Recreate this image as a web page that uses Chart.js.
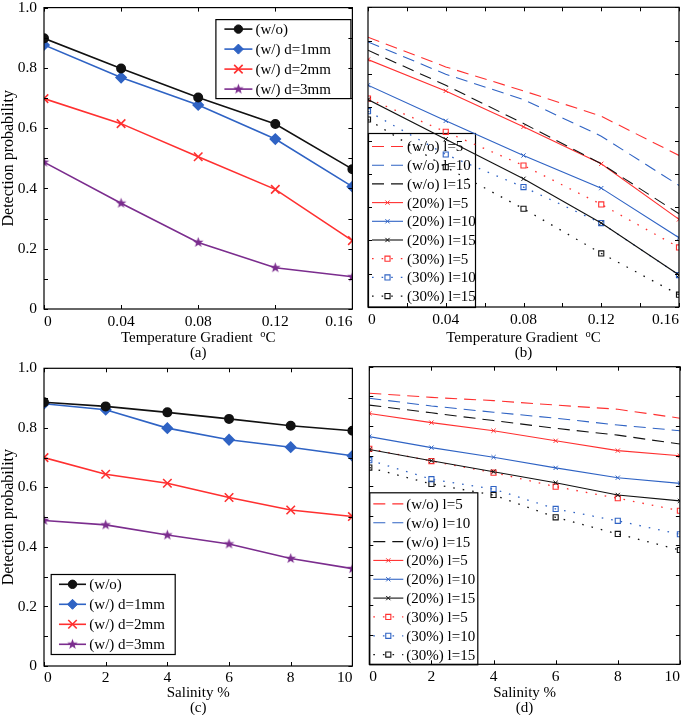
<!DOCTYPE html>
<html>
<head>
<meta charset="utf-8">
<script src="https://cdn.jsdelivr.net/npm/chart.js@4.4.1/dist/chart.umd.min.js"></script>
<style>
  body { margin: 0; background: #fff; }
  #wrap { position: relative; width: 685px; height: 715px; background: #fff; }
  canvas { position: absolute; }
</style>
</head>
<body>
<div id="wrap">
  <canvas id="chartA" width="360" height="360" style="left:0;top:0"></canvas>
  <canvas id="chartB" width="325" height="360" style="left:360px;top:0"></canvas>
  <canvas id="chartC" width="360" height="355" style="left:0;top:360px"></canvas>
  <canvas id="chartD" width="325" height="355" style="left:360px;top:360px"></canvas>
</div>
<script>
// x values
const tempGradient = [0, 0.04, 0.08, 0.12, 0.16];
const salinity = [0, 2, 4, 6, 8, 10];

// legend labels
const filmLabels = ['(w/o)', '(w/) d=1mm', '(w/) d=2mm', '(w/) d=3mm'];
const lengthLabels = ['(w/o) l=5', '(w/o) l=10', '(w/o) l=15',
                      '(20%) l=5', '(20%) l=10', '(20%) l=15',
                      '(30%) l=5', '(30%) l=10', '(30%) l=15'];

// (a) detection probability vs temperature gradient
const tempWo = [0.898, 0.798, 0.702, 0.614, 0.464];
const tempD1 = [0.876, 0.768, 0.677, 0.564, 0.406];
const tempD2 = [0.698, 0.615, 0.505, 0.397, 0.227];
const tempD3 = [0.487, 0.351, 0.221, 0.137, 0.107];

// (b)
const tempWoL5 = [0.910, 0.821, 0.749, 0.673, 0.555];
const tempWoL10 = [0.896, 0.799, 0.723, 0.613, 0.465];
const tempWoL15 = [0.871, 0.766, 0.651, 0.530, 0.380];
const temp20L5 = [0.843, 0.749, 0.641, 0.530, 0.363];
const temp20L10 = [0.766, 0.659, 0.555, 0.457, 0.308];
const temp20L15 = [0.723, 0.604, 0.485, 0.352, 0.196];
const temp30L5 = [0.726, 0.626, 0.525, 0.408, 0.279];
const temp30L10 = [0.688, 0.558, 0.460, 0.352, 0.196];
const temp30L15 = [0.663, 0.520, 0.395, 0.261, 0.137];

// (c) detection probability vs salinity
const salWo = [0.886, 0.872, 0.852, 0.830, 0.807, 0.790];
const salD1 = [0.881, 0.861, 0.799, 0.760, 0.735, 0.706];
const salD2 = [0.700, 0.644, 0.614, 0.566, 0.524, 0.502];
const salD3 = [0.489, 0.474, 0.440, 0.410, 0.361, 0.327];

// (d)
const salWoL5 = [0.911, 0.897, 0.886, 0.871, 0.857, 0.827];
const salWoL10 = [0.894, 0.868, 0.847, 0.827, 0.804, 0.785];
const salWoL15 = [0.871, 0.845, 0.819, 0.793, 0.770, 0.740];
const sal20L5 = [0.843, 0.812, 0.785, 0.751, 0.718, 0.701];
const sal20L10 = [0.765, 0.728, 0.696, 0.660, 0.627, 0.608];
const sal20L15 = [0.722, 0.684, 0.647, 0.610, 0.569, 0.549];
const sal30L5 = [0.724, 0.683, 0.644, 0.597, 0.558, 0.516];
const sal30L10 = [0.686, 0.622, 0.589, 0.522, 0.482, 0.437];
const sal30L15 = [0.661, 0.606, 0.569, 0.494, 0.438, 0.384];

const RED = '#ff3030';
const BLUE = '#2f63c4';
const BLACK = '#111111';
const PURPLE = '#7b2d8e';
const SERIF = "'Liberation Serif', 'Times New Roman', serif";

// filled pentagram marker (Chart.js 'star' is only lines)
function starImage(color, r) {
    const c = document.createElement('canvas');
    const s = Math.ceil(r * 2 + 2);
    c.width = c.height = s;
    const g = c.getContext('2d');
    g.fillStyle = color;
    g.beginPath();
    for (let i = 0; i < 10; i++) {
        const rad = i % 2 ? r * 0.42 : r;
        const ang = -Math.PI / 2 + i * Math.PI / 5;
        g.lineTo(s / 2 + rad * Math.cos(ang), s / 2 + rad * Math.sin(ang));
    }
    g.closePath();
    g.fill();
    return c;
}

function drawMarker(ctx, ds, x, y) {
    const style = ds.pointStyle;
    const r = ds.pointRadius;
    if (!r) return;
    ctx.save();
    ctx.strokeStyle = ds.pointBorderColor || ds.borderColor;
    ctx.fillStyle = ds.pointBackgroundColor || ds.borderColor;
    ctx.lineWidth = ds.pointBorderWidth || 1;
    ctx.setLineDash([]);
    ctx.beginPath();
    if (style instanceof HTMLCanvasElement) {
        ctx.drawImage(style, x - style.width / 2, y - style.height / 2);
    } else if (style === 'circle') {
        ctx.arc(x, y, r, 0, Math.PI * 2);
        ctx.fill(); ctx.stroke();
    } else if (style === 'rectRot') {
        ctx.moveTo(x, y - r); ctx.lineTo(x + r, y); ctx.lineTo(x, y + r); ctx.lineTo(x - r, y);
        ctx.closePath(); ctx.fill(); ctx.stroke();
    } else if (style === 'crossRot') {
        const d = r * Math.SQRT1_2;
        ctx.moveTo(x - d, y - d); ctx.lineTo(x + d, y + d);
        ctx.moveTo(x + d, y - d); ctx.lineTo(x - d, y + d);
        ctx.stroke();
    } else if (style === 'rect') {
        const d = r * Math.SQRT1_2;
        ctx.rect(x - d, y - d, 2 * d, 2 * d);
        ctx.stroke();
    }
    ctx.restore();
}

// boxed axes with inward ticks, legend box inside the plot, x label with superscript
const matlabAxes = {
    id: 'matlabAxes',
    beforeDatasetsDraw(chart, args, opts) {
        const lg = opts.legend;
        if (!lg) return;
        const { ctx, chartArea: a } = chart;
        const left = lg.corner === 'tr' ? a.right - lg.dx - lg.w : a.left + lg.dx;
        const top = lg.corner === 'tr' ? a.top + lg.dy : a.bottom - lg.dy - lg.h;
        ctx.save();
        ctx.fillStyle = '#fff';
        ctx.fillRect(left, top, lg.w, lg.h);
        ctx.strokeStyle = '#000';
        ctx.lineWidth = 1.2;
        ctx.strokeRect(left + 0.5, top + 0.5, lg.w, lg.h);
        ctx.font = lg.font;
        ctx.textBaseline = 'middle';
        ctx.textAlign = 'left';
        chart.data.datasets.forEach((ds, i) => {
            const y = top + lg.first + i * lg.rowH;
            ctx.save();
            ctx.strokeStyle = ds.borderColor;
            ctx.lineWidth = ds.borderWidth;
            ctx.setLineDash(ds.borderDash || []);
            ctx.beginPath();
            ctx.moveTo(left + lg.sx, y);
            ctx.lineTo(left + lg.sx + lg.sw, y);
            ctx.stroke();
            ctx.restore();
            drawMarker(ctx, ds, left + lg.sx + lg.sw / 2, y);
            ctx.fillStyle = '#000';
            ctx.fillText(ds.label, left + lg.tx, y + 1);
        });
        ctx.restore();
    },
    afterDraw(chart, args, opts) {
        const { ctx, chartArea: a, scales: { x, y } } = chart;
        const len = 4;
        ctx.save();
        ctx.strokeStyle = '#000';
        ctx.lineWidth = 1.2;
        ctx.strokeRect(a.left, a.top, a.right - a.left, a.bottom - a.top);
        ctx.beginPath();
        for (let v = x.min; v <= x.max + 1e-9; v += opts.xStep) {
            const px = Math.round(x.getPixelForValue(v)) + 0.5;
            ctx.moveTo(px, a.bottom); ctx.lineTo(px, a.bottom - len);
            ctx.moveTo(px, a.top); ctx.lineTo(px, a.top + len);
        }
        for (let v = y.min; v <= y.max + 1e-9; v += opts.yStep) {
            const py = Math.round(y.getPixelForValue(v)) + 0.5;
            ctx.moveTo(a.left, py); ctx.lineTo(a.left + len, py);
            ctx.moveTo(a.right, py); ctx.lineTo(a.right - len, py);
        }
        ctx.lineWidth = 1;
        ctx.stroke();

        // x axis label line, drawn above the "(a)" caption
        const xl = opts.xLabel;
        const mainFont = '15px ' + SERIF;
        const supFont = '10.5px ' + SERIF;
        ctx.font = mainFont;
        const w1 = ctx.measureText(xl.main).width;
        const w3 = xl.after ? ctx.measureText(xl.after).width : 0;
        ctx.font = supFont;
        const w2 = xl.sup ? ctx.measureText(xl.sup).width : 0;
        let cx = (a.left + a.right) / 2 - (w1 + w2 + w3) / 2;
        const cy = chart.height - 7.1 - 14.5;
        ctx.fillStyle = '#000';
        ctx.textAlign = 'left';
        ctx.textBaseline = 'middle';
        ctx.font = mainFont;
        ctx.fillText(xl.main, cx, cy);
        cx += w1;
        if (xl.sup) {
            ctx.font = supFont;
            ctx.fillText(xl.sup, cx, cy - 4.5);
            cx += w2;
        }
        if (xl.after) {
            ctx.font = mainFont;
            ctx.fillText(xl.after, cx, cy);
        }
        ctx.restore();
    }
};

function toPoints(xs, ys) {
    return xs.map((x, i) => ({ x: x, y: ys[i] }));
}

function makeChart(id, xs, datasets, o) {
    return new Chart(document.getElementById(id), {
        type: 'line',
        data: {
            datasets: datasets.map(d => Object.assign({
                data: toPoints(xs, d.values),
                tension: 0,
                fill: false,
                clip: o.clip
            }, d))
        },
        options: {
            responsive: false,
            animation: false,
            layout: { padding: o.padding },
            plugins: {
                legend: { display: false },
                tooltip: { enabled: false },
                matlabAxes: o.axes
            },
            scales: {
                x: {
                    type: 'linear',
                    min: o.xMin, max: o.xMax,
                    grid: { display: false, drawTicks: false },
                    border: { display: false },
                    ticks: {
                        stepSize: o.xLabelStep,
                        align: 'inner',
                        padding: o.xPad,
                        maxRotation: 0,
                        autoSkip: false,
                        color: '#000',
                        font: { family: SERIF, size: 15.5 },
                        callback: v => String(parseFloat(v.toFixed(2)))
                    },
                    title: {
                        display: true,
                        text: o.caption,
                        color: '#000',
                        font: { family: SERIF, size: 15, lineHeight: 0.95 },
                        padding: { top: 0, bottom: 0 }
                    },
                    afterFit(s) { s.height = o.xHeight; s.paddingLeft = 0; s.paddingRight = 0; }
                },
                y: {
                    type: 'linear',
                    min: o.yMin, max: o.yMax,
                    grid: { display: false, drawTicks: false },
                    border: { display: false },
                    ticks: {
                        display: o.yLabels,
                        stepSize: 0.2,
                        padding: 7,
                        color: '#000',
                        font: { family: SERIF, size: 15.5 },
                        callback: v => v === 0 ? '0' : v.toFixed(1)
                    },
                    title: {
                        display: o.yLabels,
                        text: 'Detection probability',
                        color: '#000',
                        font: { family: SERIF, size: 16, lineHeight: 1.15 },
                        padding: { top: 0, bottom: 0 }
                    },
                    afterFit(s) { s.width = o.yWidth; s.paddingTop = 0; s.paddingBottom = 0; }
                }
            }
        },
        plugins: [matlabAxes]
    });
}

// series styles for (a) and (c)
function filmSets(vals) {
    const star = starImage(PURPLE, 5.5);
    return [
        { label: filmLabels[0], values: vals[0], borderColor: BLACK, borderWidth: 1.6,
          pointStyle: 'circle', pointRadius: 4.2, pointBackgroundColor: BLACK, pointBorderColor: BLACK },
        { label: filmLabels[1], values: vals[1], borderColor: BLUE, borderWidth: 1.6,
          pointStyle: 'rectRot', pointRadius: 5, pointBackgroundColor: BLUE, pointBorderColor: BLUE },
        { label: filmLabels[2], values: vals[2], borderColor: RED, borderWidth: 1.6,
          pointStyle: 'crossRot', pointRadius: 6, pointBorderWidth: 1.6, pointBorderColor: RED },
        { label: filmLabels[3], values: vals[3], borderColor: PURPLE, borderWidth: 1.6,
          pointStyle: star, pointRadius: 5, pointBackgroundColor: PURPLE, pointBorderColor: PURPLE }
    ];
}

// series styles for (b) and (d)
function lengthSets(vals) {
    const colors = [RED, BLUE, BLACK];
    return vals.map((v, i) => {
        const c = colors[i % 3];
        const group = Math.floor(i / 3);
        const base = { label: lengthLabels[i], values: v, borderColor: c, borderWidth: 1.1,
                       pointBorderColor: c, pointBackgroundColor: 'rgba(0,0,0,0)' };
        if (group === 0) return Object.assign(base, { borderDash: [12, 7], pointRadius: 0 });
        if (group === 1) return Object.assign(base, { pointStyle: 'crossRot', pointRadius: 3, pointBorderWidth: 1 });
        return Object.assign(base, { borderDash: [1.6, 8], borderWidth: 1.3, pointStyle: 'rect', pointRadius: 3.6, pointBorderWidth: 1.1 });
    });
}

const tempLabel = { main: 'Temperature Gradient  ', sup: 'o', after: 'C' };
const salLabel = { main: 'Salinity %' };

makeChart('chartA', tempGradient, filmSets([tempWo, tempD1, tempD2, tempD3]), {
    padding: { left: 0, top: 7.5, right: 6, bottom: 0 },
    xMin: 0, xMax: 0.16, xLabelStep: 0.04, xPad: 4, xHeight: 51, caption: '(a)',
    yMin: 0, yMax: 1, yLabels: true, yWidth: 44, clip: 0,
    axes: { xStep: 0.04, yStep: 0.1, xLabel: tempLabel,
            legend: { corner: 'tr', dx: 2, dy: 11.5, w: 135, h: 79, first: 10, rowH: 20,
                      sx: 9, sw: 28, tx: 40, font: '15px ' + SERIF } }
});

makeChart('chartB', tempGradient, lengthSets([tempWoL5, tempWoL10, tempWoL15,
        temp20L5, temp20L10, temp20L15, temp30L5, temp30L10, temp30L15]), {
    padding: { left: 0, top: 7.3, right: 6, bottom: 0 },
    xMin: 0, xMax: 0.16, xLabelStep: 0.04, xPad: 4, xHeight: 53, caption: '(b)',
    yMin: 0.1, yMax: 1, yLabels: false, yWidth: 8,
    axes: { xStep: 0.02, yStep: 0.1, xLabel: tempLabel,
            legend: { corner: 'bl', dx: 0, dy: 0, w: 107, h: 174, first: 13.5, rowH: 18.7,
                      sx: 4, sw: 31, tx: 39, font: '15px ' + SERIF } }
});

makeChart('chartC', salinity, filmSets([salWo, salD1, salD2, salD3]), {
    padding: { left: 0, top: 8.3, right: 5, bottom: 0 },
    xMin: 0, xMax: 10, xLabelStep: 2, xPad: 3, xHeight: 49, caption: '(c)',
    yMin: 0, yMax: 1, yLabels: true, yWidth: 44, clip: 0,
    axes: { xStep: 2, yStep: 0.1, xLabel: salLabel,
            legend: { corner: 'bl', dx: 6.7, dy: 12, w: 124, h: 80, first: 10.3, rowH: 20,
                      sx: 8.3, sw: 27, tx: 38.6, font: '15px ' + SERIF } }
});

makeChart('chartD', salinity, lengthSets([salWoL5, salWoL10, salWoL15,
        sal20L5, sal20L10, sal20L15, sal30L5, sal30L10, sal30L15]), {
    padding: { left: 0, top: 6.7, right: 2.5, bottom: 0 },
    xMin: 0, xMax: 10, xLabelStep: 2, xPad: 3, xHeight: 50.7, caption: '(d)',
    yMin: 0, yMax: 1, yLabels: false, yWidth: 9.3,
    axes: { xStep: 2, yStep: 0.1, xLabel: salLabel,
            legend: { corner: 'bl', dx: 0, dy: 0, w: 108, h: 172, first: 11.6, rowH: 18.84,
                      sx: 4, sw: 30, tx: 37, font: '15px ' + SERIF } }
});
</script>
</body>
</html>
